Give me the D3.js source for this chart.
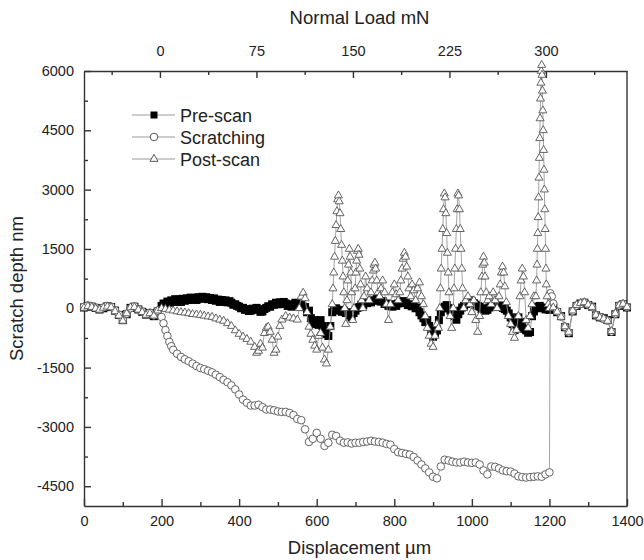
<!DOCTYPE html>
<html>
<head>
<meta charset="utf-8">
<style>
  body { margin: 0; background: #fff; font-family: Arial, "Liberation Sans", sans-serif; }
  svg { display: block; }
  .axis text { font-size: 14.5px; fill: #222; font-family: Arial, "Liberation Sans", sans-serif; }
  .axis path, .axis line { stroke: #333; stroke-width: 1.4; }
  .title { font-size: 18.5px; fill: #222; }
</style>
<script src="https://cdnjs.cloudflare.com/ajax/libs/d3/7.8.5/d3.min.js"></script>
</head>
<body>
<div id="chart"></div>
<script>
// ticks
var dispTicks = [0, 200, 400, 600, 800, 1000, 1200, 1400];
var dispMinor = [100, 300, 500, 700, 900, 1100, 1300];
var depthTicks = [-4500, -3000, -1500, 0, 1500, 3000, 4500, 6000];
var depthMinor = [-3750, -2250, -750, 750, 2250, 3750, 5250];
var loadTicks = [0, 75, 150, 225, 300];
var loadMinor = [-37.5, 37.5, 112.5, 187.5, 262.5, 337.5];

var seriesNames = ["Pre-scan", "Scratching", "Post-scan"];

// [displacement um, depth nm]
var preScan = [
  [0,20],[10,60],[20,40],[30,10],[40,-30],[50,0],[60,50],[70,30],[80,-60],[90,-170],
  [100,-300],[110,-150],[120,10],[130,40],[140,-30],[150,-90],[160,-160],[170,-120],[180,-200],[190,-80],
  [200,60],[205,120],[210,110],[215,170],[220,140],[225,200],[230,160],[235,230],[240,170],[245,220],
  [250,160],[255,240],[260,190],[265,250],[270,210],[275,270],[280,220],[285,260],[290,210],[295,280],
  [300,240],[305,290],[310,250],[315,280],[320,230],[325,260],[330,210],[335,250],[340,190],[345,220],
  [350,160],[355,210],[360,170],[365,200],[370,150],[375,180],[380,140],[385,90],[390,100],[395,60],
  [400,40],[405,0],[410,10],[415,-40],[420,-20],[425,-70],[430,-60],[435,-10],[440,-40],[445,10],
  [450,-30],[455,-90],[460,-80],[465,-20],[470,10],[475,50],[480,40],[485,100],[490,90],[495,140],
  [500,100],[505,150],[510,110],[515,160],[520,120],[525,60],[530,100],[535,40],[540,90],[545,140],
  [550,100],[555,130],[560,80],[565,40],[570,30],[575,-100],[580,-60],[585,-250],[590,-400],[595,-300],
  [600,-330],[605,-420],[610,-300],[615,-450],[620,-560],[625,-650],[630,-700],[635,-450],[640,-100],[645,-20],
  [650,0],[655,-60],[660,-40],[665,-90],[670,-60],[675,-120],[680,-100],[685,-180],[690,-230],[695,-120],
  [700,-60],[705,10],[710,30],[715,90],[720,80],[725,140],[730,130],[735,180],[740,150],[745,200],
  [750,190],[755,240],[760,210],[765,170],[770,180],[775,110],[780,120],[785,60],[790,90],[795,40],
  [800,100],[805,60],[810,120],[815,170],[820,140],[825,180],[830,130],[835,80],[840,100],[845,50],
  [850,60],[855,0],[860,20],[865,-100],[870,-180],[875,-250],[880,-350],[885,-300],[890,-450],[895,-600],
  [900,-720],[905,-650],[910,-560],[915,-300],[920,-100],[925,0],[930,40],[935,80],[940,0],[945,-60],
  [950,-120],[955,-200],[960,-290],[965,-150],[970,-60],[975,20],[980,60],[985,110],[990,150],[995,200],
  [1000,170],[1005,130],[1010,90],[1015,60],[1020,40],[1025,-20],[1030,0],[1035,-60],[1040,-40],[1045,20],
  [1050,60],[1055,110],[1060,90],[1065,60],[1070,40],[1075,70],[1080,10],[1085,-20],[1090,-60],[1095,-130],
  [1100,-230],[1105,-400],[1110,-550],[1115,-380],[1120,-230],[1125,-350],[1130,-480],[1135,-520],[1140,-560],[1145,-620],
  [1150,-600],[1155,-200],[1160,-80],[1165,0],[1170,40],[1175,60],[1180,20],[1185,0],[1190,-30],[1195,-10],
  [1200,-40],[1210,10],[1220,-100],[1230,-200],[1240,-480],[1250,-630],[1260,-80],[1270,60],[1280,120],[1290,140],
  [1300,80],[1310,40],[1320,-180],[1330,-230],[1340,-250],[1350,-300],[1360,-600],[1370,-150],[1380,60],[1390,100],
  [1400,20]
];

var scratching = [
  [0,40],[10,70],[20,50],[30,20],[40,-20],[50,20],[60,60],[70,40],[80,-50],[90,-160],
  [100,-290],[110,-140],[120,0],[130,50],[140,-20],[150,-80],[160,-150],[170,-110],[180,-180],[190,-60],
  [200,-220],[205,-380],[210,-550],[215,-700],[220,-850],[225,-960],[230,-1050],[240,-1150],[250,-1230],[260,-1290],
  [270,-1340],[280,-1400],[290,-1460],[300,-1510],[310,-1540],[320,-1580],[330,-1620],[340,-1680],[350,-1740],[360,-1810],
  [370,-1870],[380,-1950],[390,-2050],[400,-2180],[410,-2310],[420,-2390],[430,-2460],[440,-2460],[450,-2440],[460,-2500],
  [470,-2560],[480,-2560],[490,-2580],[500,-2610],[510,-2620],[520,-2620],[530,-2650],[540,-2700],[550,-2800],[560,-2830],
  [570,-3060],[580,-3380],[590,-3300],[600,-3150],[610,-3300],[620,-3480],[630,-3400],[640,-3200],[650,-3230],[660,-3350],
  [670,-3400],[680,-3390],[690,-3420],[700,-3400],[710,-3400],[720,-3380],[730,-3370],[740,-3350],[750,-3370],[760,-3380],
  [770,-3400],[780,-3430],[790,-3450],[800,-3560],[810,-3640],[820,-3660],[830,-3680],[840,-3700],[850,-3760],[860,-3850],
  [870,-3950],[880,-4050],[890,-4150],[900,-4260],[910,-4300],[920,-4000],[930,-3830],[940,-3850],[950,-3880],[960,-3900],
  [970,-3900],[980,-3880],[990,-3900],[1000,-3910],[1010,-3900],[1020,-3950],[1030,-4100],[1040,-4200],[1050,-4000],[1060,-4010],
  [1070,-4050],[1080,-4100],[1090,-4120],[1100,-4130],[1110,-4180],[1120,-4250],[1130,-4270],[1140,-4280],[1150,-4270],[1160,-4260],
  [1170,-4250],[1180,-4260],[1190,-4200],[1200,-4150],[1202,380],[1206,300],[1210,120],[1220,-80],[1230,-210],[1240,-470],
  [1250,-610],[1260,-70],[1270,70],[1280,110],[1290,150],[1300,90],[1310,30],[1320,-170],[1330,-220],[1340,-270],
  [1350,-310],[1360,-590],[1370,-140],[1380,70],[1390,110],[1400,30]
];

var postScan = [
  [0,10],[10,50],[20,30],[30,-10],[40,-40],[50,10],[60,40],[70,20],[80,-80],[90,-190],
  [100,-320],[110,-130],[120,20],[130,30],[140,-40],[150,-100],[160,-170],[170,-130],[180,-190],[190,-60],
  [200,0],[210,-20],[220,-40],[230,-60],[240,-80],[250,-100],[260,-110],[270,-130],[280,-150],[290,-160],
  [300,-170],[310,-190],[320,-210],[330,-220],[340,-260],[350,-290],[360,-320],[370,-380],[380,-450],[390,-560],
  [400,-650],[410,-720],[420,-780],[430,-850],[440,-980],[445,-1130],[450,-1080],[455,-900],[460,-1000],[465,-630],
  [470,-500],[475,-470],[480,-600],[485,-800],[490,-1130],[495,-1050],[500,-720],[505,-450],[510,-290],[520,-200],
  [530,-240],[540,-260],[550,-290],[555,0],[560,290],[565,390],[570,250],[575,-100],[580,-470],[585,-650],
  [590,-800],[595,-950],[600,-1050],[605,-700],[610,-630],[615,-1000],[620,-1300],[625,-1400],[630,-1050],[635,-470],
  [640,100],[642,500],[644,900],[646,1300],[648,1700],[650,2100],[652,2450],[654,2750],[656,2850],[658,2700],
  [660,2400],[662,2000],[664,1600],[666,1200],[668,800],[670,400],[672,0],[675,-400],[678,200],[680,700],
  [682,1100],[684,1500],[686,1300],[688,900],[690,400],[693,-300],[696,0],[699,500],[701,900],[703,1200],
  [705,1450],[707,1500],[709,1350],[711,1000],[713,600],[716,200],[719,0],[722,300],[726,800],[730,500],
  [735,200],[740,400],[743,700],[746,950],[748,1100],[750,1150],[752,1000],[755,700],[758,400],[762,300],
  [766,500],[770,700],[775,400],[780,100],[785,-300],[790,100],[795,400],[800,600],[805,350],[810,200],
  [814,400],[817,700],[820,1000],[823,1250],[826,1400],[829,1300],[832,1050],[835,800],[838,500],[842,300],
  [846,600],[850,450],[855,200],[860,500],[865,650],[870,300],[875,100],[880,-200],[885,-500],[890,-700],
  [895,-900],[900,-980],[905,-700],[910,-400],[914,-500],[917,0],[919,500],[921,1000],[923,1500],[925,2000],
  [927,2500],[929,2900],[931,2800],[933,2400],[935,1900],[937,1400],[939,900],[941,400],[944,-200],[948,-500],
  [952,0],[954,500],[956,1000],[958,1500],[960,2000],[962,2500],[964,2900],[966,2850],[968,2500],[970,2000],
  [972,1500],[974,1000],[976,500],[979,0],[984,200],[990,300],[995,100],[1000,-100],[1005,200],[1010,-300],
  [1015,-600],[1020,-200],[1023,400],[1026,800],[1028,1100],[1030,1300],[1032,1150],[1034,800],[1037,400],[1041,200],
  [1045,300],[1050,100],[1055,400],[1060,200],[1065,0],[1070,300],[1073,600],[1076,900],[1079,1050],[1082,900],
  [1085,550],[1089,150],[1094,-200],[1100,-400],[1105,-600],[1110,-750],[1115,-550],[1120,-200],[1124,300],[1127,700],
  [1130,1000],[1133,800],[1136,400],[1140,-300],[1145,-500],[1150,-200],[1155,100],[1160,300],[1165,300],[1167,700],
  [1168,1100],[1169,1500],[1170,1900],[1171,2300],[1172,2800],[1173,3300],[1174,3800],[1175,4300],[1176,4800],[1177,5300],
  [1178,5700],[1179,6000],[1180,6150],[1181,5900],[1182,5500],[1183,5000],[1184,4500],[1185,4000],[1186,3500],[1187,3000],
  [1188,2500],[1189,2000],[1190,1500],[1191,1000],[1192,600],[1194,300],[1197,100],[1200,0],[1210,20],[1220,-90],
  [1230,-220],[1240,-460],[1250,-600],[1260,-60],[1270,80],[1280,130],[1290,150],[1300,90],[1310,30],[1320,-170],
  [1330,-240],[1340,-260],[1350,-320],[1360,-580],[1370,-130],[1380,70],[1390,110],[1400,30]
];

var W = 644, H = 560;
var margin = {left: 84, right: 17, top: 71, bottom: 54};

var svg = d3.select("#chart").append("svg")
  .attr("width", W).attr("height", H);

var x = d3.scaleLinear().domain([0, 1400]).range([margin.left, W - margin.right]);
var y = d3.scaleLinear().domain([-5000, 6000]).range([H - margin.bottom, margin.top]);
var xLoad = d3.scaleLinear().domain([-59, 363]).range([margin.left, W - margin.right]);

var plotB = H - margin.bottom, plotT = margin.top;
var fmt = function(d) { return String(d); };

// axes
svg.append("g").attr("class", "axis")
  .attr("transform", "translate(0," + plotB + ")")
  .call(d3.axisBottom(x).tickValues(dispTicks).tickFormat(fmt).tickSizeInner(-7).tickSizeOuter(0).tickPadding(10));
svg.append("g").attr("class", "axis minor")
  .attr("transform", "translate(0," + plotB + ")")
  .call(d3.axisBottom(x).tickValues(dispMinor).tickSize(-4).tickFormat(""))
  .select(".domain").remove();

svg.append("g").attr("class", "axis")
  .attr("transform", "translate(" + margin.left + ",0)")
  .call(d3.axisLeft(y).tickValues(depthTicks).tickFormat(fmt).tickSizeInner(-7).tickSizeOuter(0).tickPadding(10));
svg.append("g").attr("class", "axis minor")
  .attr("transform", "translate(" + margin.left + ",0)")
  .call(d3.axisLeft(y).tickValues(depthMinor).tickSize(-4).tickFormat(""))
  .select(".domain").remove();

svg.append("g").attr("class", "axis")
  .attr("transform", "translate(0," + plotT + ")")
  .call(d3.axisTop(xLoad).tickValues(loadTicks).tickFormat(fmt).tickSizeInner(-7).tickSizeOuter(0).tickPadding(15));
svg.append("g").attr("class", "axis minor")
  .attr("transform", "translate(0," + plotT + ")")
  .call(d3.axisTop(xLoad).tickValues(loadMinor).tickSize(-4).tickFormat(""))
  .select(".domain").remove();

// right frame
svg.append("line")
  .attr("x1", W - margin.right).attr("x2", W - margin.right)
  .attr("y1", plotT).attr("y2", plotB)
  .attr("stroke", "#333").attr("stroke-width", 1.4);

// titles
var midX = (margin.left + W - margin.right) / 2;
svg.append("text").attr("class", "title")
  .attr("x", midX + 4).attr("y", 24)
  .attr("text-anchor", "middle").text("Normal Load mN");
svg.append("text").attr("class", "title")
  .attr("x", midX + 4).attr("y", 554)
  .attr("text-anchor", "middle").text("Displacement \u00b5m");
svg.append("text").attr("class", "title")
  .attr("transform", "translate(23," + ((plotT + plotB) / 2) + ") rotate(-90)")
  .attr("text-anchor", "middle").text("Scratch depth nm");

var line = d3.line().x(function(d) { return x(d[0]); }).y(function(d) { return y(d[1]); });

var lineColor = "#999";
var plot = svg.append("g");

function drawSeries(data, kind) {
  plot.append("path").datum(data)
    .attr("d", line).attr("fill", "none")
    .attr("stroke", lineColor).attr("stroke-width", 0.9);
  var g = plot.append("g");
  if (kind == "square") {
    g.selectAll("rect").data(data).enter().append("rect")
      .attr("x", function(d) { return x(d[0]) - 4; })
      .attr("y", function(d) { return y(d[1]) - 4; })
      .attr("width", 8).attr("height", 8)
      .attr("fill", "#000");
  } else if (kind == "circle") {
    g.selectAll("circle").data(data).enter().append("circle")
      .attr("cx", function(d) { return x(d[0]); })
      .attr("cy", function(d) { return y(d[1]); })
      .attr("r", 3.8)
      .attr("fill", "#fff").attr("stroke", "#555").attr("stroke-width", 0.9);
  } else {
    var tri = d3.symbol().type(d3.symbolTriangle).size(28);
    g.selectAll("path").data(data).enter().append("path")
      .attr("d", tri)
      .attr("transform", function(d) { return "translate(" + x(d[0]) + "," + y(d[1]) + ")"; })
      .attr("fill", "#fff").attr("stroke", "#555").attr("stroke-width", 0.9);
  }
}

drawSeries(preScan, "square");
drawSeries(scratching, "circle");
drawSeries(postScan, "triangle");

// legend
var legend = svg.append("g").attr("transform", "translate(132,115)");
var kinds = ["square", "circle", "triangle"];
seriesNames.forEach(function(name, i) {
  var row = legend.append("g").attr("transform", "translate(0," + (i * 22) + ")");
  row.append("line").attr("x1", 0).attr("x2", 43).attr("y1", 0).attr("y2", 0)
    .attr("stroke", lineColor).attr("stroke-width", 1);
  if (kinds[i] == "square") {
    row.append("rect").attr("x", 18.5).attr("y", -3.5).attr("width", 7).attr("height", 7).attr("fill", "#000");
  } else if (kinds[i] == "circle") {
    row.append("circle").attr("cx", 22).attr("cy", 0).attr("r", 3.8)
      .attr("fill", "#fff").attr("stroke", "#555");
  } else {
    row.append("path").attr("d", d3.symbol().type(d3.symbolTriangle).size(28))
      .attr("transform", "translate(22,0)")
      .attr("fill", "#fff").attr("stroke", "#555");
  }
  row.append("text").attr("x", 48).attr("y", 6.5)
    .attr("font-size", 18).attr("fill", "#222").text(name);
});
</script>
</body>
</html>
